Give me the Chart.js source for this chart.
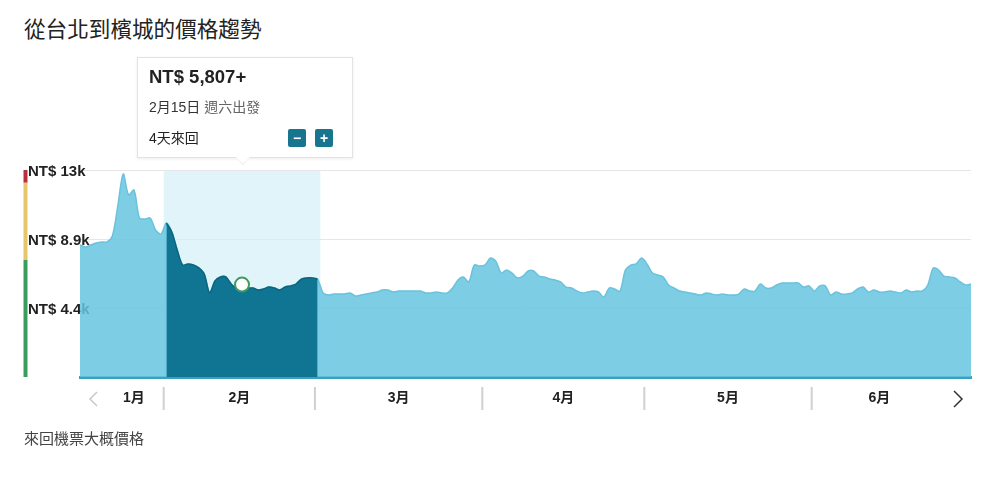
<!DOCTYPE html>
<html lang="zh-Hant">
<head>
<meta charset="utf-8">
<title>從台北到檳城的價格趨勢</title>
<script src="https://cdn.jsdelivr.net/npm/chart.js@4.4.1/dist/chart.umd.min.js"></script>
<style>
  html, body { margin: 0; padding: 0; background: #fff; }
  body { width: 1000px; height: 478px; position: relative; overflow: hidden;
         font-family: "Liberation Sans", Arial, "Noto Sans CJK TC", sans-serif; color: #222; }
  #title { position: absolute; left: 24px; top: 14px; font-size: 21.6px; line-height: 28px;
           font-family: "Noto Sans CJK TC", sans-serif; color: #222; }
  #wrap { position: absolute; left: 0; top: 0; width: 1000px; height: 478px; }
  #note { position: absolute; left: 24px; top: 428px; font-size: 15px; line-height: 20px;
          color: #444; font-family: "Noto Sans CJK TC", sans-serif; }
  #tip { position: absolute; top: 57px; left: 137px; width: 214px; height: 99px;
         background: #fff; border: 1px solid #e3e3e3; box-shadow: 0 1px 3px rgba(0,0,0,0.07); }
  #tip:before, #tip:after { content: ""; position: absolute; left: 98px; width: 0; height: 0;
         border-left: 7px solid transparent; border-right: 7px solid transparent; }
  #tip:before { bottom: -8px; border-top: 8px solid #e3e3e3; }
  #tip:after { bottom: -7px; border-top: 7px solid #fff; }
  #tipPrice { position: absolute; left: 11px; top: 7px; font-size: 18.5px; font-weight: bold; line-height: 24px; }
  #tipDate { position: absolute; left: 11px; top: 40px; font-size: 14px; line-height: 18px; color: #333; }
  #tipDate span { color: #666; }
  #tipTrip { position: absolute; left: 11px; top: 71px; font-size: 14px; line-height: 18px; color: #222; }
  .btn { position: absolute; top: 71px; width: 18px; height: 18px; background: #17758f; border-radius: 2px;
         color: #fff; font-size: 14px; font-weight: bold; line-height: 18px; text-align: center; }
</style>
</head>
<body>
<div id="title">從台北到檳城的價格趨勢</div>
<div id="wrap"><canvas id="trendChart" width="1000" height="478"></canvas></div>
<div id="tip">
  <div id="tipPrice"></div>
  <div id="tipDate"></div>
  <div id="tipTrip"></div>
  <div class="btn" style="left:150px">−</div>
  <div class="btn" style="left:177px">+</div>
</div>
<div id="note">來回機票大概價格</div>
<script>
// 價格資料 (NT$)，1/16 ~ 6/30 每日一筆
const tripYear = 2025;
const firstDay = 16; // 1月從16日開始
const monthNames = ['1月', '2月', '3月', '4月', '5月', '6月'];
const janPrices = [8290, 8160, 8290, 8420, 8480, 8480, 8860, 10740, 12750, 11430, 11740, 9990, 9920, 9990, 9230, 8980];
const febPrices = [9670, 9110, 7980, 7030, 7100, 7030, 6850, 6470, 5280, 6030, 6280, 6280, 5840, 5590,
                   5807, 5590, 5590, 5460, 5530, 5650, 5590, 5460, 5650, 5720, 5840, 6150, 6220, 6220];
const marPrices = [6150, 5280, 5150, 5210, 5210, 5210, 5280, 5090, 5150, 5210, 5280, 5340, 5460, 5460, 5340, 5400,
                   5400, 5400, 5400, 5400, 5280, 5280, 5340, 5280, 5280, 5590, 6090, 6280, 5970, 7030, 6970];
const aprPrices = [7030, 7470, 7280, 6530, 6720, 6530, 6220, 6340, 6660, 6660, 6340, 6280, 6150, 6090, 5970,
                   5650, 5590, 5400, 5280, 5340, 5400, 5340, 5020, 5590, 5530, 5400, 6720, 7030, 7100, 7470];
const mayPrices = [7100, 6530, 6410, 6280, 5780, 5590, 5400, 5340, 5280, 5210, 5150, 5280, 5210, 5150, 5210, 5150,
                   5150, 5210, 5530, 5400, 5400, 5840, 5590, 5590, 5780, 5900, 5900, 5900, 5900, 5650, 5720];
const junPrices = [5400, 5720, 5720, 5150, 5340, 5210, 5210, 5280, 5530, 5650, 5340, 5460, 5340, 5340, 5400,
                   5340, 5280, 5460, 5340, 5400, 5400, 5780, 6840, 6720, 6340, 6280, 6220, 5970, 5780, 5840];
const yTickLabels = ['', 'NT$ 4.4k', 'NT$ 8.9k', 'NT$ 13k'];
const yMax = 13000;
const priceLevels = [12200, 7350]; // 貴 / 普通 / 便宜 的分界
const tripDays = 4;
const weekdayNames = ['週日', '週一', '週二', '週三', '週四', '週五', '週六'];

const monthPrices = [janPrices, febPrices, marPrices, aprPrices, mayPrices, junPrices];
const labels = [];
const monthStarts = [];
const allPrices = [];
monthPrices.forEach((arr, m) => {
    monthStarts.push(allPrices.length);
    arr.forEach((v, i) => {
        const d = (m === 0 ? firstDay : 1) + i;
        labels.push((m + 1) + '月' + d + '日');
        allPrices.push(v);
    });
});
monthStarts.push(allPrices.length);

// 選取的範圍：2月 (到3/1)，出發日 2/15
const selStart = monthStarts[1];
const selEnd = monthStarts[2];
const selectedIndex = monthStarts[1] + 14;
const selectedPrices = allPrices.map((v, i) => (i >= selStart && i <= selEnd) ? v : null);

const axisFont = { family: '"Liberation Sans", Arial, "Noto Sans CJK TC", sans-serif', size: 15, weight: 'bold' };
const yAxisWidth = 52;

const trendDecor = {
    id: 'trendDecor',
    beforeDraw(chart) {
        const { ctx, chartArea: a, scales: { x } } = chart;
        const l = (x.getPixelForValue(selStart - 1) + x.getPixelForValue(selStart)) / 2;
        const r = (x.getPixelForValue(selEnd) + x.getPixelForValue(selEnd + 1)) / 2;
        ctx.save();
        ctx.fillStyle = '#e0f4f9';
        ctx.fillRect(l, a.top, r - l, a.bottom - a.top);
        ctx.restore();
    },
    afterDraw(chart) {
        const { ctx, chartArea: a, scales: { x, y } } = chart;
        ctx.save();
        // 左側價格等級色條
        const bars = [[yMax, priceLevels[0], '#b5323c'], [priceLevels[0], priceLevels[1], '#e8c46a'], [priceLevels[1], 0, '#3a9c5d']];
        ctx.lineWidth = 4;
        bars.forEach(([from, to, c]) => {
            ctx.strokeStyle = c;
            ctx.beginPath();
            ctx.moveTo(25.5, y.getPixelForValue(from));
            ctx.lineTo(25.5, y.getPixelForValue(to));
            ctx.stroke();
        });
        // 月份分隔線與標籤
        const bounds = [];
        for (let m = 1; m < monthStarts.length - 1; m++) {
            bounds.push((x.getPixelForValue(monthStarts[m] - 1) + x.getPixelForValue(monthStarts[m])) / 2);
        }
        ctx.strokeStyle = '#d0d0d0';
        ctx.lineWidth = 2;
        bounds.forEach(bx => {
            ctx.beginPath();
            ctx.moveTo(bx, a.bottom + 10);
            ctx.lineTo(bx, a.bottom + 33);
            ctx.stroke();
        });
        const edges = [a.left + 24].concat(bounds, [a.right - 24]);
        ctx.fillStyle = '#222';
        ctx.font = 'bold 14px "Liberation Sans", Arial, "Noto Sans CJK TC", sans-serif';
        ctx.textAlign = 'center';
        ctx.textBaseline = 'middle';
        monthNames.forEach((name, m) => {
            ctx.fillText(name, (edges[m] + edges[m + 1]) / 2, a.bottom + 21);
        });
        // 左右箭頭
        ctx.lineWidth = 1.5;
        ctx.strokeStyle = '#c8c8c8';
        ctx.beginPath();
        ctx.moveTo(a.left + 17, a.bottom + 15);
        ctx.lineTo(a.left + 10, a.bottom + 22);
        ctx.lineTo(a.left + 17, a.bottom + 29);
        ctx.stroke();
        ctx.strokeStyle = '#333';
        ctx.beginPath();
        ctx.moveTo(a.right - 17, a.bottom + 14);
        ctx.lineTo(a.right - 9, a.bottom + 22);
        ctx.lineTo(a.right - 17, a.bottom + 30);
        ctx.stroke();
        ctx.restore();

        // 提示框位置跟著選取的點
        const px = x.getPixelForValue(selectedIndex);
        document.getElementById('tip').style.left = (px - 105) + 'px';
    }
};

const price = allPrices[selectedIndex];
const selDate = new Date(tripYear, 1, selectedIndex - selStart + 1);
document.getElementById('tipPrice').textContent = 'NT$ ' + price.toLocaleString('en-US') + '+';
document.getElementById('tipDate').innerHTML = labels[selectedIndex] + ' <span>' + weekdayNames[selDate.getDay()] + '出發</span>';
document.getElementById('tipTrip').textContent = tripDays + '天來回';

new Chart(document.getElementById('trendChart'), {
    type: 'line',
    data: {
        labels: labels,
        datasets: [
            {
                label: '選取',
                data: selectedPrices,
                fill: 'origin',
                backgroundColor: '#107593',
                borderColor: '#0b6580',
                borderWidth: 1.5,
                tension: 0.3,
                spanGaps: false,
                pointRadius: ctx => ctx.dataIndex === selectedIndex ? 7 : 0,
                pointHoverRadius: 0,
                pointBackgroundColor: '#fff',
                pointBorderColor: '#3f9a5c',
                pointBorderWidth: 2
            },
            {
                label: '價格',
                data: allPrices,
                fill: 'origin',
                backgroundColor: 'rgba(102,196,224,0.85)',
                borderColor: '#6ac2dc',
                borderWidth: 1.5,
                tension: 0.3,
                pointRadius: 0
            }
        ]
    },
    options: {
        responsive: false,
        animation: false,
        devicePixelRatio: 1,
        layout: { padding: { left: 28, right: 29, top: 170, bottom: 101 } },
        plugins: { legend: { display: false }, tooltip: { enabled: false } },
        scales: {
            x: {
                type: 'category',
                grid: { display: false },
                ticks: { display: false },
                border: { display: true, color: '#3aa0bd', width: 3 },
                afterFit: s => { s.height = 0; }
            },
            y: {
                min: 0,
                max: yMax,
                ticks: {
                    count: 4,
                    mirror: true,            // 標籤不被裁切，延伸進圖區
                    padding: -yAxisWidth,
                    crossAlign: 'near',
                    labelOffset: 2,
                    color: '#222',
                    font: axisFont,
                    callback: (v, i) => yTickLabels[i]
                },
                grid: {
                    drawTicks: false,
                    color: ctx => ctx.index === 0 ? 'rgba(0,0,0,0)' : '#e6e6e6'
                },
                border: { display: false },
                afterFit: s => { s.width = yAxisWidth; }
            }
        }
    },
    plugins: [trendDecor]
});
</script>
</body>
</html>
